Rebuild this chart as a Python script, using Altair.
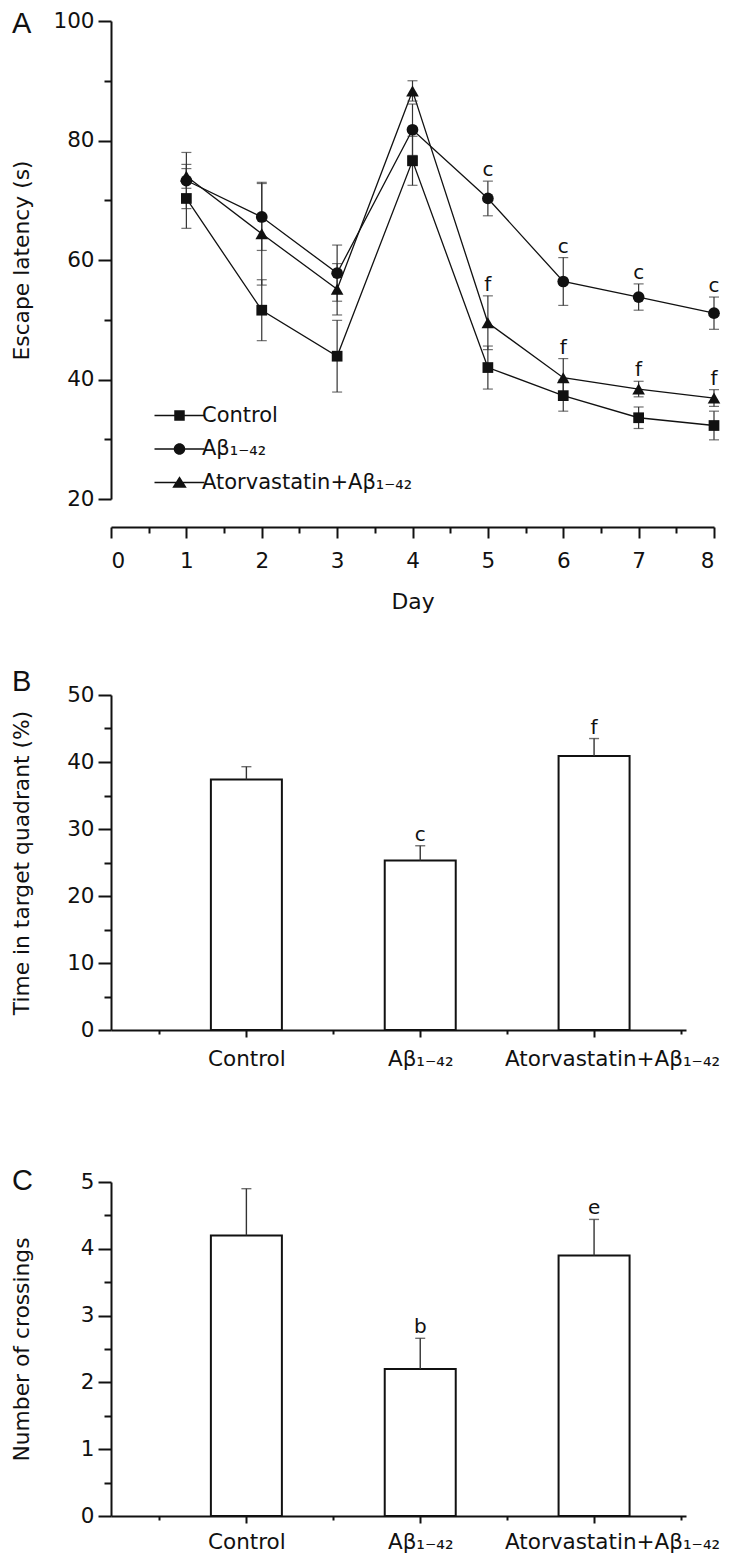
import altair as alt
import pandas as pd

FONT = "DejaVu Sans"
INK = "#111111"
ERR = "#333333"

# ---------------- data ----------------
groups = ["Control", "Aβ₁₋₄₂", "Atorvastatin+Aβ₁₋₄₂"]

days = [1, 2, 3, 4, 5, 6, 7, 8]
control_latency = [70.3, 51.6, 43.9, 76.6, 42.0, 37.3, 33.6, 32.3]
control_sem = [5.0, 5.1, 6.0, 4.1, 3.6, 2.6, 1.8, 2.4]
control_sig = ["", "", "", "", "", "", "", ""]
abeta_latency = [73.3, 67.2, 57.8, 81.8, 70.3, 56.4, 53.8, 51.1]
abeta_sem = [4.7, 5.6, 4.7, 4.3, 2.9, 4.0, 2.2, 2.7]
abeta_sig = ["", "", "", "", "c", "c", "c", "c"]
atorva_latency = [74.0, 64.4, 55.1, 88.3, 49.5, 40.3, 38.4, 36.9]
atorva_sem = [2.0, 8.6, 4.3, 1.7, 4.5, 3.2, 1.3, 1.4]
atorva_sig = ["", "", "", "", "f", "f", "f", "f"]

quadrant_time = [37.4, 25.3, 40.9]
quadrant_sem = [1.9, 2.2, 2.6]
quadrant_sig = ["", "c", "f"]

crossings = [4.2, 2.2, 3.9]
crossings_sem = [0.7, 0.46, 0.54]
crossings_sig = ["", "b", "e"]

panel_letters = ["A", "B", "C"]

# ---------------- tables ----------------
rows = []
for g, means, sems, sigs in zip(
    groups,
    [control_latency, abeta_latency, atorva_latency],
    [control_sem, abeta_sem, atorva_sem],
    [control_sig, abeta_sig, atorva_sig],
):
    for d, m, s, t in zip(days, means, sems, sigs):
        rows.append({"group": g, "day": d, "mean": m, "lo": m - s, "hi": m + s, "sig": t})
dfA = pd.DataFrame(rows)


def bar_table(values, sems, sigs):
    return pd.DataFrame({
        "pos": [i + 1 for i in range(len(groups))],
        "group": groups,
        "value": values,
        "hi": [v + s for v, s in zip(values, sems)],
        "sig": sigs,
    })


dfB = bar_table(quadrant_time, quadrant_sem, quadrant_sig)
dfC = bar_table(crossings, crossings_sem, crossings_sig)

LABEL_SIZE = 21.5
TITLE_SIZE = 21.8


def axis(**kw):
    base = dict(
        domainColor=INK, domainWidth=2, tickColor=INK, tickWidth=2,
        labelFont=FONT, labelFontSize=LABEL_SIZE, labelColor=INK,
        titleFont=FONT, titleFontSize=TITLE_SIZE, titleColor=INK, titleFontWeight="normal",
        grid=False,
    )
    base.update(kw)
    return alt.Axis(**base)


def yaxis_major(values, title):
    return axis(values=values, tickSize=13, labelPadding=4, title=title, orient="left",
                titleAngle=270, titleX=-83, titleBaseline="alphabetic")


def yaxis_minor(values):
    return axis(values=values, tickSize=7, labels=False, domain=False, title=None, orient="left")


def letter_layer(letter, ypix):
    return alt.Chart(pd.DataFrame({"letter": [letter]})).mark_text(
        font="Liberation Sans", fontSize=29, color=INK, align="left", baseline="middle"
    ).encode(x=alt.value(-99), y=alt.value(ypix), text="letter:N")


# ---------------- panel A ----------------
xsA = alt.Scale(domain=[0, 8], nice=False, zero=False)
ysA = alt.Scale(domain=[20, 100], range=[478, 0], nice=False, zero=False)

xA_major = alt.X("day:Q", scale=xsA, axis=axis(values=list(range(9)), format="d", tickSize=11,
                                                labelPadding=12, title="Day", titlePadding=20,
                                                orient="bottom"))
xA_minor = alt.X("day:Q", scale=xsA, axis=axis(values=[d - 0.5 for d in days], tickSize=6,
                                                labels=False, domain=False, title=None,
                                                orient="bottom"))
xA_none = alt.X("day:Q", scale=xsA, axis=None)

lines = alt.Chart(dfA).mark_line(color=INK, strokeWidth=1.3).encode(
    x=xA_major,
    y=alt.Y("mean:Q", scale=ysA, axis=yaxis_major([20, 40, 60, 80, 100], "Escape latency (s)")),
    detail="group:N",
)
err = alt.Chart(dfA).mark_rule(color=ERR, strokeWidth=1.2).encode(
    x=xA_minor,
    y=alt.Y("lo:Q", scale=ysA, axis=yaxis_minor([30, 50, 70, 90])),
    y2="hi:Q",
)
cap_lo = alt.Chart(dfA).mark_tick(orient="horizontal", color=ERR, thickness=1.2, size=10).encode(
    x=xA_none, y=alt.Y("lo:Q", scale=ysA, axis=None))
cap_hi = alt.Chart(dfA).mark_tick(orient="horizontal", color=ERR, thickness=1.2, size=10).encode(
    x=xA_none, y=alt.Y("hi:Q", scale=ysA, axis=None))
points = alt.Chart(dfA).mark_point(filled=True, opacity=1, color=INK).encode(
    x=xA_none,
    y=alt.Y("mean:Q", scale=ysA, axis=None),
    shape=alt.Shape("group:N", scale=alt.Scale(domain=groups, range=["square", "circle", "triangle-up"]),
                    legend=None),
    size=alt.Size("group:N", scale=alt.Scale(domain=groups, range=[115, 160, 190]), legend=None),
)
# legend symbols: a thin bar (the connecting line) plus the marker
legend_paths = [
    "M-5,-0.13H5V0.13H-5ZM-1.05,-1.05H1.05V1.05H-1.05Z",
    "M-5,-0.13H5V0.13H-5ZM1.15,0A1.15,1.15,0,1,1,-1.15,0A1.15,1.15,0,1,1,1.15,0Z",
    "M-5,-0.13H5V0.13H-5ZM0,-1.25L1.45,1.05H-1.45Z",
]
legend_layer = alt.Chart(dfA).transform_filter("false").mark_point(
    filled=True, opacity=0, color=INK).encode(
    x=xA_none,
    y=alt.Y("mean:Q", scale=ysA, axis=None),
    shape=alt.Shape(
        "group:N",
        scale=alt.Scale(domain=groups, range=legend_paths),
        legend=alt.Legend(
            title=None, orient="none", legendX=58, legendY=384, padding=0,
            symbolSize=100, symbolOpacity=1, symbolFillColor=INK, symbolStrokeColor=INK,
            symbolStrokeWidth=0.6, labelFont=FONT, labelFontSize=21, labelColor=INK,
            labelOffset=12, rowPadding=11.5, labelLimit=400,
        ),
    ),
)
sigA = alt.Chart(dfA).mark_text(font=FONT, fontSize=20, color=INK, baseline="alphabetic", dy=-5).encode(
    x=xA_none, y=alt.Y("hi:Q", scale=ysA, axis=None), text="sig:N")

panelA = alt.layer(
    lines, err, cap_lo, cap_hi, points, legend_layer, sigA, letter_layer(panel_letters[0], 3)
).resolve_scale(shape="independent").resolve_axis(x="independent", y="independent").properties(
    width=603, height=506)


# ---------------- panels B and C ----------------
label_expr = ""
for i, g in enumerate(groups):
    label_expr += f"datum.value == {i + 1} ? '{g}' : "
label_expr += "''"
# the long label is centred on its main text, with the subscript hanging to the right
label_shift = alt.ExprRef(expr=f"datum.value == {len(groups)} ? 18 : 0")


def bar_panel(df, ymax, ymajor, yminor, title, yrange, height, letter, letter_y, xpad):
    xs = alt.Scale(domain=[0.25, 3.5], nice=False, zero=False)
    ys = alt.Scale(domain=[0, ymax], range=yrange, nice=False, zero=False)
    x_major = alt.X("pos:Q", scale=xs, axis=axis(values=[1, 2, 3], labelExpr=label_expr, tickSize=7,
                                                labelPadding=xpad, title=None, orient="bottom",
                                                labelLimit=400, labelOffset=label_shift))
    x_minor = alt.X("pos:Q", scale=xs, axis=axis(values=[0.5, 1.5, 2.5, 3.5], tickSize=4,
                                                labels=False, domain=False, title=None,
                                                orient="bottom"))
    x_none = alt.X("pos:Q", scale=xs, axis=None)
    bars = alt.Chart(df).mark_bar(orient="vertical", size=71, fill="white", stroke=INK,
                                  strokeWidth=2).encode(
        x=x_major, y=alt.Y("value:Q", scale=ys, axis=yaxis_major(ymajor, title)))
    rule = alt.Chart(df).mark_rule(color=ERR, strokeWidth=1.4).encode(
        x=x_minor, y=alt.Y("value:Q", scale=ys, axis=yaxis_minor(yminor)), y2="hi:Q")
    cap = alt.Chart(df).mark_tick(orient="horizontal", color=ERR, thickness=1.4, size=10).encode(
        x=x_none, y=alt.Y("hi:Q", scale=ys, axis=None))
    sig = alt.Chart(df).mark_text(font=FONT, fontSize=20, color=INK, baseline="alphabetic", dy=-5).encode(
        x=x_none, y=alt.Y("hi:Q", scale=ys, axis=None), text="sig:N")
    return alt.layer(bars, rule, cap, sig, letter_layer(letter, letter_y)).resolve_axis(
        x="independent", y="independent").properties(width=575, height=height)


panelB = bar_panel(dfB, 50, [0, 10, 20, 30, 40, 50], [5, 15, 25, 35, 45],
                   "Time in target quadrant (%)", [351, 16], 351, panel_letters[1], 3, 11)
panelC = bar_panel(dfC, 5, [0, 1, 2, 3, 4, 5], [0.5, 1.5, 2.5, 3.5, 4.5],
                   "Number of crossings", [334, 0], 334, panel_letters[2], -1, 8)

chart = alt.vconcat(panelA, panelB, panelC, spacing=152, bounds="flush").configure_view(
    stroke=None).properties(padding={"left": 3, "top": 2, "right": 0, "bottom": 0}, background="white")

chart.save("out.html", embed_options={"renderer": "svg", "actions": False})
